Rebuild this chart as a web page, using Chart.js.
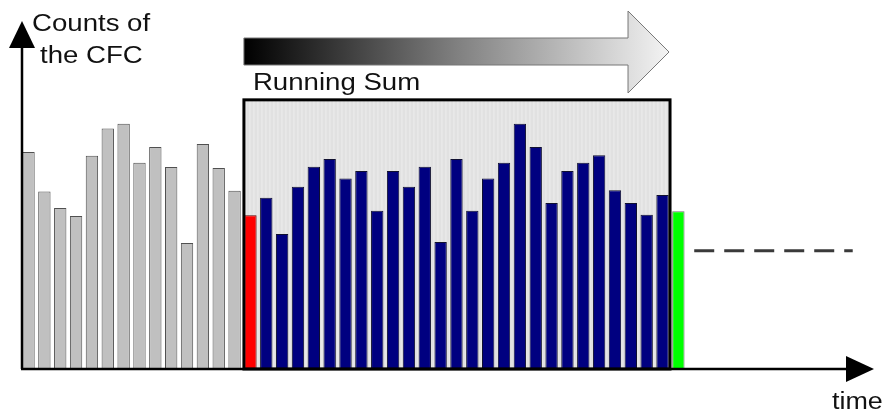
<!DOCTYPE html>
<html>
<head>
<meta charset="utf-8">
<script src="https://cdn.jsdelivr.net/npm/chart.js@4.4.1/dist/chart.umd.min.js"></script>
<style>
  html, body { margin: 0; padding: 0; background: #fff; }
  #wrap { width: 887px; height: 414px; position: relative; }
</style>
</head>
<body>
<div id="wrap"><canvas id="chart"></canvas></div>
<script>
// time steps on the x axis (no tick labels are shown)
const timeSteps = Array.from({ length: 54 }, (_, i) => i + 1);

// counts of the CFC
const pastCounts = [62, 50.7, 46, 43.7, 60.9, 68.7, 70.1, 58.9, 63.4, 57.7, 36, 64.3, 57.4, 50.9];
const droppedCount = 43.9;
const windowCounts = [48.9, 38.6, 52.1, 57.8, 60, 54.4, 56.6, 45.2, 56.6, 52.1, 57.8, 36.3, 60,
                      45.2, 54.4, 58.9, 70.1, 63.4, 47.4, 56.6, 58.9, 61.1, 51.1, 47.4, 44.1, 49.7];
const nextCount = 45.1;
const forecastLevel = 33.8;
const forecastSteps = [42, 52];

const labelY = 'Counts of|the CFC';
const labelX = 'time';
const labelWindow = 'Running Sum';

const n = timeSteps.length;
const startWin = pastCounts.length;
const endWin = startWin + windowCounts.length;

function slot(values, start) {
    const arr = new Array(n).fill(null);
    values.forEach((v, i) => { arr[start + i] = v; });
    return arr;
}

const forecastData = new Array(n).fill(null);
for (let i = forecastSteps[0]; i <= forecastSteps[1]; i++) forecastData[i] = forecastLevel;

function stretchedText(ctx, text, x, y, size, sx) {
    ctx.save();
    ctx.translate(x, y);
    ctx.scale(sx, 1);
    ctx.font = size + 'px "Liberation Sans", Arial, sans-serif';
    ctx.fillStyle = '#111';
    ctx.textBaseline = 'alphabetic';
    ctx.fillText(text, 0, 0);
    ctx.restore();
}

function windowEdges(chart) {
    const { x, y } = chart.scales;
    return {
        left: x.getPixelForValue(startWin) - 6.5,
        right: x.getPixelForValue(endWin) + 7.5,
        top: y.getPixelForValue(76.9),
        bottom: y.getPixelForValue(0)
    };
}

const windowPlugin = {
    id: 'windowBox',
    beforeDatasetsDraw(chart) {
        const ctx = chart.ctx;
        const { left, right, top, bottom } = windowEdges(chart);
        ctx.save();
        ctx.fillStyle = '#e1e1e1';
        ctx.fillRect(left, top, right - left, bottom - top);
        ctx.strokeStyle = 'rgba(255,255,255,0.45)';
        ctx.lineWidth = 1;
        for (let px = left + 2; px < right; px += 4) {
            ctx.beginPath();
            ctx.moveTo(px, top);
            ctx.lineTo(px, bottom);
            ctx.stroke();
        }
        ctx.restore();
    },
    afterDatasetsDraw(chart) {
        const ctx = chart.ctx;
        const { left, right, top, bottom } = windowEdges(chart);
        ctx.save();
        ctx.strokeStyle = '#000';
        ctx.lineWidth = 3;
        ctx.strokeRect(left, top, right - left, bottom - top);

        // axes with arrow heads
        const x0 = 22;
        ctx.lineWidth = 2.5;
        ctx.beginPath();
        ctx.moveTo(x0, bottom);
        ctx.lineTo(x0, 44);
        ctx.moveTo(x0 - 1, bottom);
        ctx.lineTo(850, bottom);
        ctx.stroke();
        ctx.fillStyle = '#000';
        ctx.beginPath();
        ctx.moveTo(x0, 21);
        ctx.lineTo(x0 + 13, 48);
        ctx.lineTo(x0 - 13, 48);
        ctx.closePath();
        ctx.fill();
        ctx.beginPath();
        ctx.moveTo(874, bottom);
        ctx.lineTo(846, bottom - 13);
        ctx.lineTo(846, bottom + 13);
        ctx.closePath();
        ctx.fill();

        // gradient arrow over the window
        const headX = right - 42;
        const grad = ctx.createLinearGradient(left, 0, right, 0);
        grad.addColorStop(0, '#000');
        grad.addColorStop(0.5, '#808080');
        grad.addColorStop(1, '#f4f4f4');
        ctx.fillStyle = grad;
        ctx.strokeStyle = '#777';
        ctx.lineWidth = 1;
        ctx.beginPath();
        ctx.moveTo(left, 38);
        ctx.lineTo(headX, 38);
        ctx.lineTo(headX, 11);
        ctx.lineTo(right - 1, 52);
        ctx.lineTo(headX, 93);
        ctx.lineTo(headX, 65);
        ctx.lineTo(left, 65);
        ctx.closePath();
        ctx.fill();
        ctx.stroke();

        stretchedText(ctx, labelWindow, left + 9, 90, 23, 1.2);
        const lines = labelY.split('|');
        stretchedText(ctx, lines[0], 32, 31, 23, 1.2);
        stretchedText(ctx, lines[1], 40, 63, 23, 1.2);
        stretchedText(ctx, labelX, 832, 409, 23, 1.17);
        ctx.restore();
    }
};

const barOpts = { grouped: false, categoryPercentage: 1, barPercentage: 0.78, borderWidth: 1 };

new Chart(document.getElementById('chart'), {
    type: 'bar',
    data: {
        labels: timeSteps,
        datasets: [
            { ...barOpts, label: 'past', data: slot(pastCounts, 0), backgroundColor: '#c0c0c0', borderColor: '#505050' },
            { ...barOpts, label: 'dropped', data: slot([droppedCount], startWin), backgroundColor: '#ff0000', borderColor: '#600000' },
            { ...barOpts, label: 'window', data: slot(windowCounts, startWin + 1), backgroundColor: '#000080', borderColor: '#101030' },
            { ...barOpts, label: 'next', data: slot([nextCount], endWin + 1), backgroundColor: '#00ff00', borderColor: '#707070' },
            {
                type: 'line', label: 'forecast', data: forecastData,
                borderColor: '#3a3a3a', borderWidth: 3, borderDash: [20, 10],
                pointRadius: 0, spanGaps: false, fill: false
            }
        ]
    },
    options: {
        responsive: true,
        maintainAspectRatio: false,
        animation: false,
        layout: { padding: { left: 20.6, right: 10.5, top: 19, bottom: 45 } },
        plugins: { legend: { display: false }, tooltip: { enabled: false } },
        scales: {
            x: { display: false, offset: true, grid: { display: false } },
            y: { display: false, min: 0, max: 100, grid: { display: false } }
        }
    },
    plugins: [windowPlugin]
});
</script>
</body>
</html>
